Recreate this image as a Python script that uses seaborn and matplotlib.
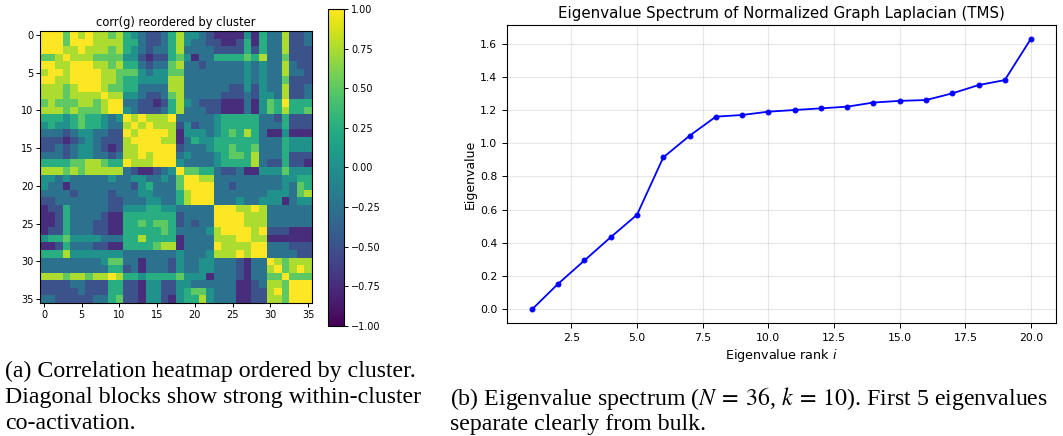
import matplotlib

matplotlib.use("Agg")

import matplotlib.pyplot as plt
import numpy as np
import seaborn as sns

# corr(g) lower triangle, one digit per cell, value = (digit - 4) / 4
corr_rows = [
    "8",
    "88",
    "888",
    "6678",
    "88778",
    "788788",
    "8877888",
    "77767888",
    "777677778",
    "6766677678",
    "77767666788",
    "555456554348",
    "4544565543378",
    "33323443322878",
    "222123432227888",
    "2232344321277888",
    "33323443323778788",
    "555566776558777888",
    "7776767777732112348",
    "44343333343344334368",
    "433133333333245333688",
    "3333233332333443335788",
    "22333333322333443357888",
    "122533333224445544333338",
    "1125333321155555552333388",
    "11253332211556566523233888",
    "122533322115555565333347888",
    "4556444433355755551333377788",
    "11253332211555567713333877778",
    "555744444443333333433347778788",
    "3333333346633133324334433321338",
    "33333333355231333243344333213378",
    "777677677875545555644413332133668",
    "2222332225522144224433333311237768",
    "22222322255221442245664333112278688",
    "332222233562214421455743331122776888",
]

ranks = list(range(1, 21))
eigenvalues = [0.00, 0.155, 0.295, 0.435, 0.57, 0.915, 1.045, 1.16, 1.17, 1.19,
               1.20, 1.21, 1.22, 1.245, 1.255, 1.26, 1.30, 1.35, 1.38, 1.63]

matrix_ticks = [0, 5, 10, 15, 20, 25, 30, 35]
cbar_ticks = [-1.0, -0.75, -0.5, -0.25, 0.0, 0.25, 0.5, 0.75, 1.0]
rank_ticks = [2.5, 5.0, 7.5, 10.0, 12.5, 15.0, 17.5, 20.0]
value_ticks = [0.0, 0.2, 0.4, 0.6, 0.8, 1.0, 1.2, 1.4, 1.6]

caption_a = [
    "(a) Correlation heatmap ordered by cluster.",
    "Diagonal blocks show strong within-cluster",
    "co-activation.",
]
caption_b = [
    "(b) Eigenvalue spectrum ($N\\:=\\:36$, $k\\:=\\:10$). First 5 eigenvalues",
    "separate clearly from bulk.",
]

n = len(corr_rows)
corr = np.eye(n)
for i, row in enumerate(corr_rows):
    for j, ch in enumerate(row):
        corr[i, j] = corr[j, i] = (int(ch) - 4) / 4

W, H = 1063, 436
fig = plt.figure(figsize=(W / 100, H / 100), dpi=100)


def box(x0, y0, x1, y1):
    return [x0 / W, 1 - y1 / H, (x1 - x0) / W, (y1 - y0) / H]


ax_hm = fig.add_axes(box(40.2, 31.2, 311.8, 302.8))
ax_cb = fig.add_axes(box(328, 9, 344, 326))
ax_ev = fig.add_axes(box(507, 25, 1056, 323))

sns.heatmap(
    corr,
    ax=ax_hm,
    cmap="viridis",
    vmin=-1,
    vmax=1,
    cbar_ax=ax_cb,
    xticklabels=False,
    yticklabels=False,
)
ax_hm.set_xticks(np.array(matrix_ticks) + 0.5, labels=matrix_ticks)
ax_hm.set_yticks(np.array(matrix_ticks) + 0.5, labels=matrix_ticks, rotation=0)
ax_hm.tick_params(length=3, width=0.7, labelsize=7, pad=2)
for spine in ax_hm.spines.values():
    spine.set_visible(True)
    spine.set_linewidth(0.8)
ax_hm.set_title("corr(g) reordered by cluster", fontsize=8.3, pad=4)

cbar = ax_hm.collections[0].colorbar
cbar.set_ticks(cbar_ticks)
cbar.set_ticklabels([f"{t:.2f}".replace("-", "\u2212") for t in cbar_ticks])
cbar.ax.tick_params(length=3, width=0.7, labelsize=7, pad=2)
cbar.outline.set_visible(True)
cbar.outline.set_linewidth(0.8)

sns.lineplot(
    x=ranks,
    y=eigenvalues,
    ax=ax_ev,
    color="blue",
    marker="o",
    markersize=3.5,
    markeredgecolor="blue",
    linewidth=1.3,
)
ax_ev.set_xticks(rank_ticks)
ax_ev.set_yticks(value_ticks)
ax_ev.set_xlim(0.05, 20.95)
ax_ev.set_ylim(-0.0815, 1.7115)
ax_ev.grid(True, alpha=0.3)
ax_ev.tick_params(labelsize=7.8, length=3.5, width=0.7)
for spine in ax_ev.spines.values():
    spine.set_linewidth(0.8)
ax_ev.set_title("Eigenvalue Spectrum of Normalized Graph Laplacian (TMS)", fontsize=10.8, pad=5)
ax_ev.set_xlabel("Eigenvalue rank $i$", fontsize=9.2, labelpad=3)
ax_ev.set_ylabel("Eigenvalue", fontsize=9, labelpad=2)

for k, line in enumerate(caption_a):
    fig.text(5 / W, 1 - (371 + 26 * k) / H, line, family="Liberation Serif",
             fontsize=17.2, va="center", ha="left", math_fontfamily="stix")
for k, line in enumerate(caption_b):
    fig.text(450 / W, 1 - (398 + 26 * k) / H, line, family="Liberation Serif",
             fontsize=17.2, va="center", ha="left", math_fontfamily="stix")

fig.savefig("out.png", dpi=100)
